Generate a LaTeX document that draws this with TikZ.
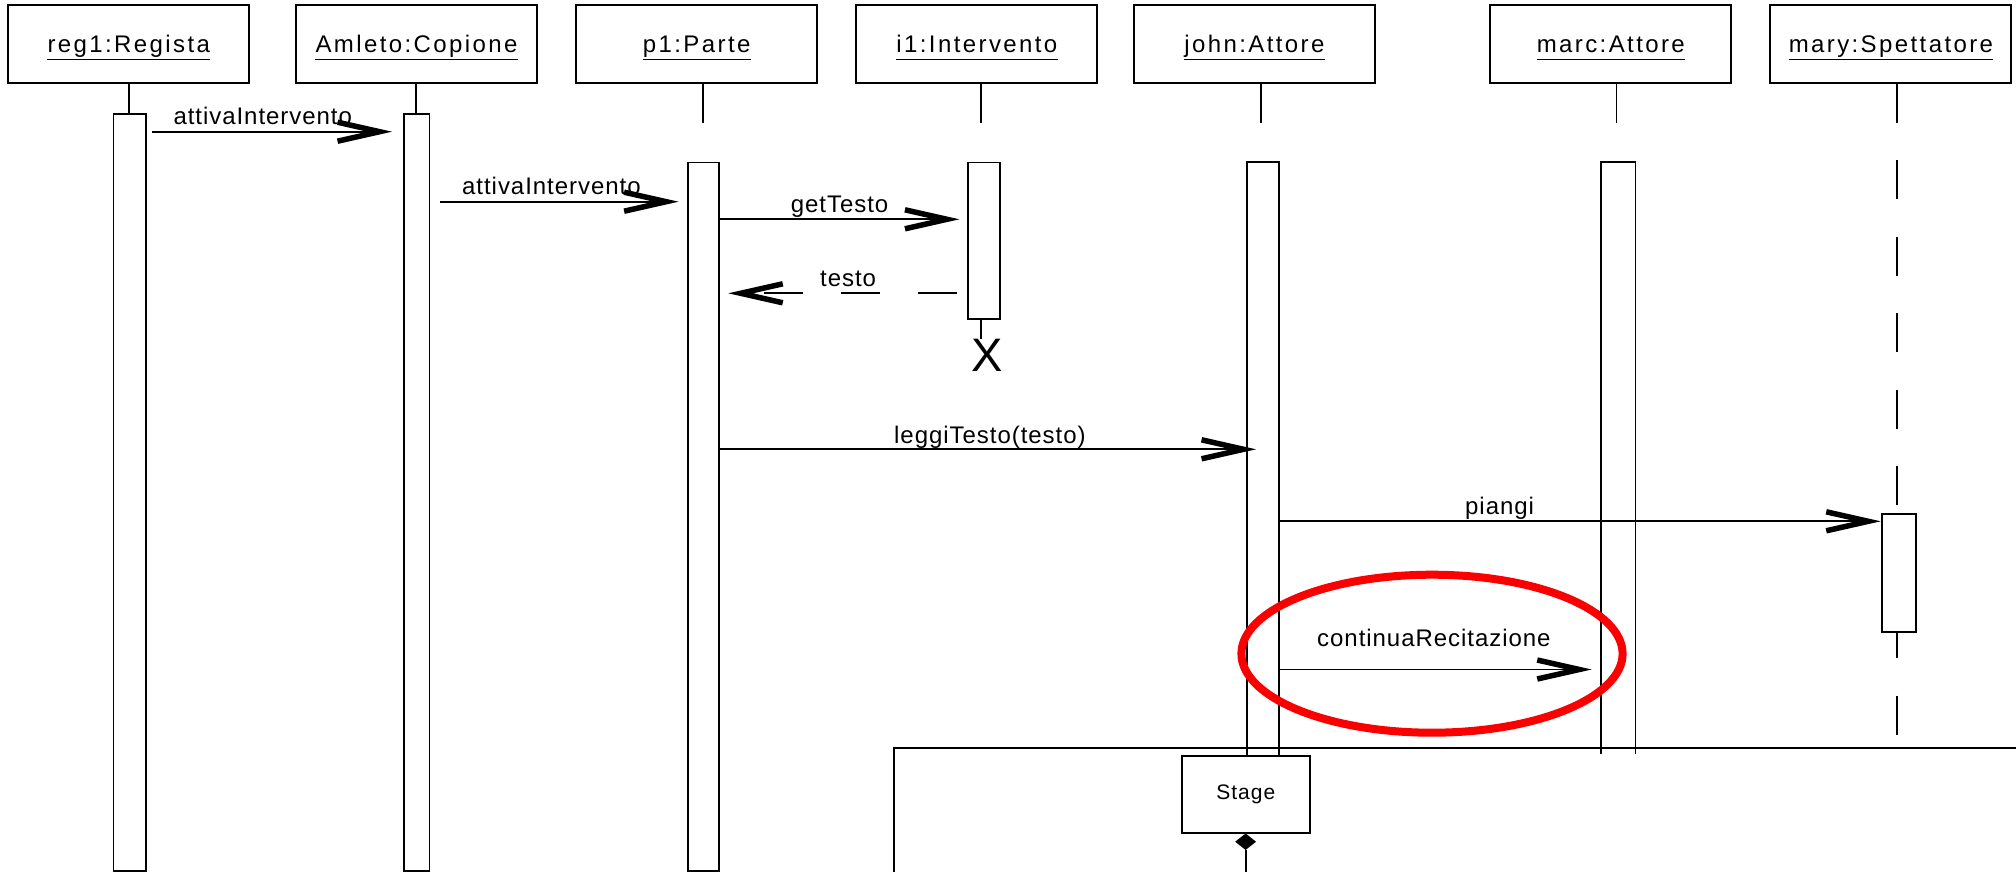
\documentclass[tikz,border=0pt]{standalone}
\usepackage{fontspec}
\setmainfont{Liberation Sans}
\newfontfamily\hdrfamily[LetterSpace=10]{Liberation Sans}
\newfontfamily\msgfamily[LetterSpace=4]{Liberation Sans}
\newfontfamily\stagefamily[LetterSpace=5]{Liberation Sans}
\usetikzlibrary{arrows.meta,shapes.geometric}

\newcommand\hdrfont{\hdrfamily\fontsize{24}{28}\selectfont}
\newcommand\msgfont{\msgfamily\fontsize{24}{28}\selectfont}
\newcommand\stagefont{\stagefamily\fontsize{21}{25}\selectfont}

\tikzset{
  objbox/.style={draw, line width=2pt, fill=white, minimum width=241pt,
    minimum height=77.7pt, inner sep=0pt},
  objname/.style={font=\hdrfont, inner sep=0pt, anchor=base},
  uline/.style={line width=1.8pt},
  lifeline/.style={line width=1.8pt, dash pattern=on 39pt off 37.5pt},
  actbar/.style={draw, line width=1.8pt, fill=white, inner sep=0pt, anchor=north west},
  openbar/.style={fill=white, inner sep=0pt, anchor=north west},
  barside/.style={line width=1.8pt},
  msg/.style={line width=1.8pt,
    -{Straight Barb[length=42pt,width=19pt,line width=5.5pt]}},
  reply/.style={msg, dash pattern=on 39pt off 38pt},
  msglabel/.style={font=\msgfont, inner sep=0pt, anchor=base west},
  frameline/.style={line width=2pt},
  classbox/.style={draw, line width=2pt, fill=white, minimum width=128.3pt,
    minimum height=77pt, inner sep=0pt, font=\stagefont},
  compdiamond/.style={diamond, fill=black, minimum width=21pt,
    minimum height=16.7pt, inner sep=0pt},
  highlight/.style={draw={rgb,255:red,250;green,0;blue,0}, line width=8pt},
}

\begin{document}
\begin{tikzpicture}[x=1pt,y=-1pt]
  \useasboundingbox (0,0) rectangle (2016,872);
  \fill[white] (0,0) rectangle (2016,872);
  \clip (0,0) rectangle (2016,872);

  % ---- object heads ----
  \node[objbox] (reg1) at (128.8,43.85) {};
  \node[objbox] (amleto) at (416.5,43.85) {};
  \node[objbox] (p1) at (696.7,43.85) {};
  \node[objbox] (i1) at (976.9,43.85) {};
  \node[objbox] (john) at (1254.4,43.85) {};
  \node[objbox] (marc) at (1610.8,43.85) {};
  \node[objbox] (mary) at (1890.9,43.85) {};

  \foreach \o/\t in {reg1/reg1:Regista, amleto/Amleto:Copione, p1/p1:Parte,
      i1/i1:Intervento, john/john:Attore, marc/marc:Attore, mary/mary:Spettatore}{
    \node[objname] (\o t) at ([yshift=-8.3pt]\o.center) {\t};
    \draw[uline] ([yshift=-7.3pt]\o t.base west) -- ([yshift=-7.3pt]\o t.base east);
  }

  % ---- lifelines ----
  \draw[lifeline] ([xshift=-0.1pt]reg1.south) -- ++(0,30.3);
  \draw[lifeline] ([xshift=-0.7pt]amleto.south) -- ++(0,30.3);
  \draw[lifeline] ([xshift=6pt]p1.south) -- ++(0,39);
  \draw[lifeline] ([xshift=4.1pt]i1.south) -- ++(0,39);
  \draw[lifeline] ([xshift=6.3pt]john.south) -- ++(0,39);
  \draw[lifeline] ([xshift=5.6pt]marc.south) -- ++(0,39);
  \draw[lifeline] ([xshift=5.8pt]mary.south) -- ++(0,654.3);

  % ---- activation bars ----
  \node[actbar, minimum width=32.5pt, minimum height=757pt] (reg1bar) at (112.5,113) {};
  \node[actbar, minimum width=25.6pt, minimum height=757pt] (amletobar) at (403,113) {};
  \node[actbar, minimum width=31pt, minimum height=708.3pt] (p1bar) at (687,161.7) {};
  \node[actbar, minimum width=32.3pt, minimum height=156pt] (i1bar) at (966.7,161.7) {};
  \node[actbar, minimum width=34.3pt, minimum height=117.7pt] (marybar) at (1880.7,513.3) {};
  \node[openbar, minimum width=32pt, minimum height=594pt] (johnbar) at (1246.7,161.7) {};
  \draw[barside] (johnbar.south west) -- (johnbar.north west) -- (johnbar.north east) -- (johnbar.south east);
  \node[openbar, minimum width=34pt, minimum height=592.3pt] (marcbar) at (1601,161.7) {};
  \draw[barside] (marcbar.south west) -- (marcbar.north west) -- (marcbar.north east) -- (marcbar.south east);

  % ---- destruction mark ----
  \coordinate (iend) at (981,339);
  \node[font=\fontsize{47}{50}\selectfont, inner sep=0pt, anchor=north] (destroy) at (986.7,339) {X};
  \draw[barside] (i1bar.south -| iend) -- (iend);

  % ---- messages ----
  \coordinate (m1a) at (151.8,131.7);  \coordinate (m1b) at (392,131.7);
  \coordinate (m2a) at (440,201.7);    \coordinate (m2b) at (678.6,201.7);
  \coordinate (m3a) at (719,219.3);    \coordinate (m3b) at (959.4,219.3);
  \coordinate (m4a) at (957.3,293.3);  \coordinate (m4b) at (728.3,293.3);
  \coordinate (m5a) at (719,449.3);    \coordinate (m5b) at (1256,449.3);
  \coordinate (m6a) at (1279,521.3);   \coordinate (m6b) at (1880.7,521.3);
  \coordinate (m7a) at (1279,669.5);   \coordinate (m7b) at (1591.7,669.5);

  \draw[msg] (m1a) -- (m1b);
  \draw[msg] (m2a) -- (m2b);
  \draw[msg] (m3a) -- (m3b);
  \draw[reply] (m4a) -- (m4b);
  \draw[msg] (m5a) -- (m5b);
  \draw[msg] (m6a) -- (m6b);
  \draw[msg] (m7a) -- (m7b);

  \node[msglabel] (l1) at (173.3,124.3) {attivaIntervento};
  \node[msglabel] (l2) at (462,194.3) {attivaIntervento};
  \node[msglabel] (l3) at (790.6,212.3) {getTesto};
  \node[msglabel] (l4) at (820,286) {testo};
  \node[msglabel] (l5) at (894,443.3) {leggiTesto(testo)};
  \node[msglabel] (l6) at (1465,514.3) {piangi};
  \node[msglabel] (l7) at (1317,646) {continuaRecitazione};

  % ---- class diagram frame ----
  \coordinate (fr1) at (2030,748.3);
  \coordinate (fr2) at (893.7,748.3);
  \coordinate (fr3) at (893.7,890);
  \draw[frameline] (fr1) -- (fr2) -- (fr3);

  \node[classbox] (stage) at (1245.8,794.2) {Stage};
  \node[compdiamond] (comp) at (1245.6,841.7) {};
  \coordinate (compend) at (1245.6,890);
  \draw[line width=1.8pt] (comp.south) -- (compend);

  % ---- highlight ----
  \draw[highlight] (1432,653.7) ellipse [x radius=190.6, y radius=79];
\end{tikzpicture}
\end{document}
